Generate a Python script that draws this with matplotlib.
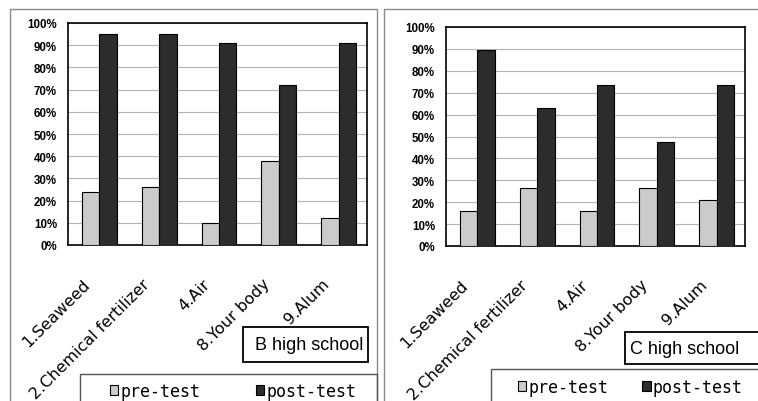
import numpy as np
import matplotlib
matplotlib.use("Agg")
import matplotlib.pyplot as plt
from matplotlib import font_manager, transforms
from matplotlib.patches import Rectangle
from matplotlib.ticker import FuncFormatter

# answers rated correct (%) before and after the lesson
items = ["1.Seaweed", "2.Chemical fertilizer", "4.Air", "8.Your body", "9.Alum"]
b_pre = [24, 26, 10, 38, 12]
b_post = [95, 95, 91, 72, 91]
c_pre = [15.8, 26.3, 15.8, 26.3, 21.1]
c_post = [89.5, 63.2, 73.7, 47.4, 73.7]
yticks = list(range(0, 101, 10))

W, H = 758, 402
PRE_COL = "#cbcbcb"
POST_COL = "#2c2c2c"

names = {f.name for f in font_manager.fontManager.ttflist}
yfont = "Liberation Sans Narrow" if "Liberation Sans Narrow" in names else "Liberation Sans"
ysize = 9.5 if yfont == "Liberation Sans Narrow" else 8.3

fig = plt.figure(figsize=(W / 100, H / 100), dpi=100)
fig.patch.set_facecolor("white")


def box(x0, y0, x1, y1):
    # pixel box (top-left origin) -> figure fraction [l, b, w, h]
    return [x0 / W, 1 - y1 / H, (x1 - x0) / W, (y1 - y0) / H]


def frame(x0, y0, x1, y1, **kw):
    l, b, w, h = box(x0, y0, x1, y1)
    fig.patches.append(Rectangle((l, b), w, h, transform=fig.transFigure,
                                 fill=kw.pop("fill", False), **kw))


def panel(pos, pre, post):
    ax = fig.add_axes(box(*pos))
    x = np.arange(len(items))
    bp = ax.bar(x - 0.12, pre, 0.29, color=PRE_COL, edgecolor="black",
                linewidth=0.8, zorder=3, label="pre-test")
    bq = ax.bar(x + 0.17, post, 0.29, color=POST_COL, edgecolor="black",
                linewidth=0.8, zorder=3, label="post-test")
    ax.set_xlim(-0.5, len(items) - 0.5)
    ax.set_ylim(0, 100)
    ax.set_yticks(yticks)
    ax.yaxis.set_major_formatter(FuncFormatter(lambda v, p: "%d%%" % v))
    ax.yaxis.grid(True, color="#b4b4b4", linewidth=0.8, zorder=0)
    ax.tick_params(axis="y", length=0, pad=8)
    for t in ax.get_yticklabels():
        t.set_fontfamily(yfont)
        t.set_fontweight("bold")
        t.set_fontsize(ysize)
    ax.set_xticks(x)
    ax.set_xticklabels(items, rotation=45, ha="right", va="center",
                       rotation_mode="anchor", fontsize=11.5,
                       family="DejaVu Sans")
    ax.tick_params(axis="x", length=0, pad=26)
    shift = transforms.ScaledTranslation(-10 / 100, 0, fig.dpi_scale_trans)
    for t in ax.get_xticklabels():
        t.set_transform(t.get_transform() + shift)
    for s in ax.spines.values():
        s.set_linewidth(1.2)
    return ax, (bp, bq)


# outer chart borders
frame(10, 10, 377, 410, edgecolor="#8a8a8a", linewidth=1)
frame(384, 10, 770, 410, edgecolor="#8a8a8a", linewidth=1)

axb, hb = panel((68, 24, 367, 246), b_pre, b_post)
axc, hc = panel((446, 28, 745, 247), c_pre, c_post)

# school name boxes
frame(243, 328, 368, 363, edgecolor="black", linewidth=1.3,
      fill=True, facecolor="white")
fig.text(255 / W, 1 - 346 / H, "B high school", fontsize=13,
         family="Liberation Sans", va="center", ha="left")
frame(625, 333, 770, 365, edgecolor="black", linewidth=1.3,
      fill=True, facecolor="white")
fig.text(630 / W, 1 - 350 / H, "C high school", fontsize=13,
         family="Liberation Sans", va="center", ha="left")

# legends
frame(80, 375, 377, 410, edgecolor="#555555", linewidth=1)
frame(491, 370, 770, 410, edgecolor="#555555", linewidth=1)
fig.legend(hb, ["pre-test", "post-test"], loc="center left",
           bbox_to_anchor=(110 / W, 1 - 392 / H), ncol=2, frameon=False,
           borderpad=0, borderaxespad=0, handlelength=0.5, handleheight=0.5,
           handletextpad=0.15, columnspacing=3.3,
           prop={"family": "DejaVu Sans Mono", "size": 12})
fig.legend(hc, ["pre-test", "post-test"], loc="center left",
           bbox_to_anchor=(518 / W, 1 - 388 / H), ncol=2, frameon=False,
           borderpad=0, borderaxespad=0, handlelength=0.5, handleheight=0.5,
           handletextpad=0.15, columnspacing=2.0,
           prop={"family": "DejaVu Sans Mono", "size": 12})

fig.savefig("out.png", dpi=100, facecolor="white")
